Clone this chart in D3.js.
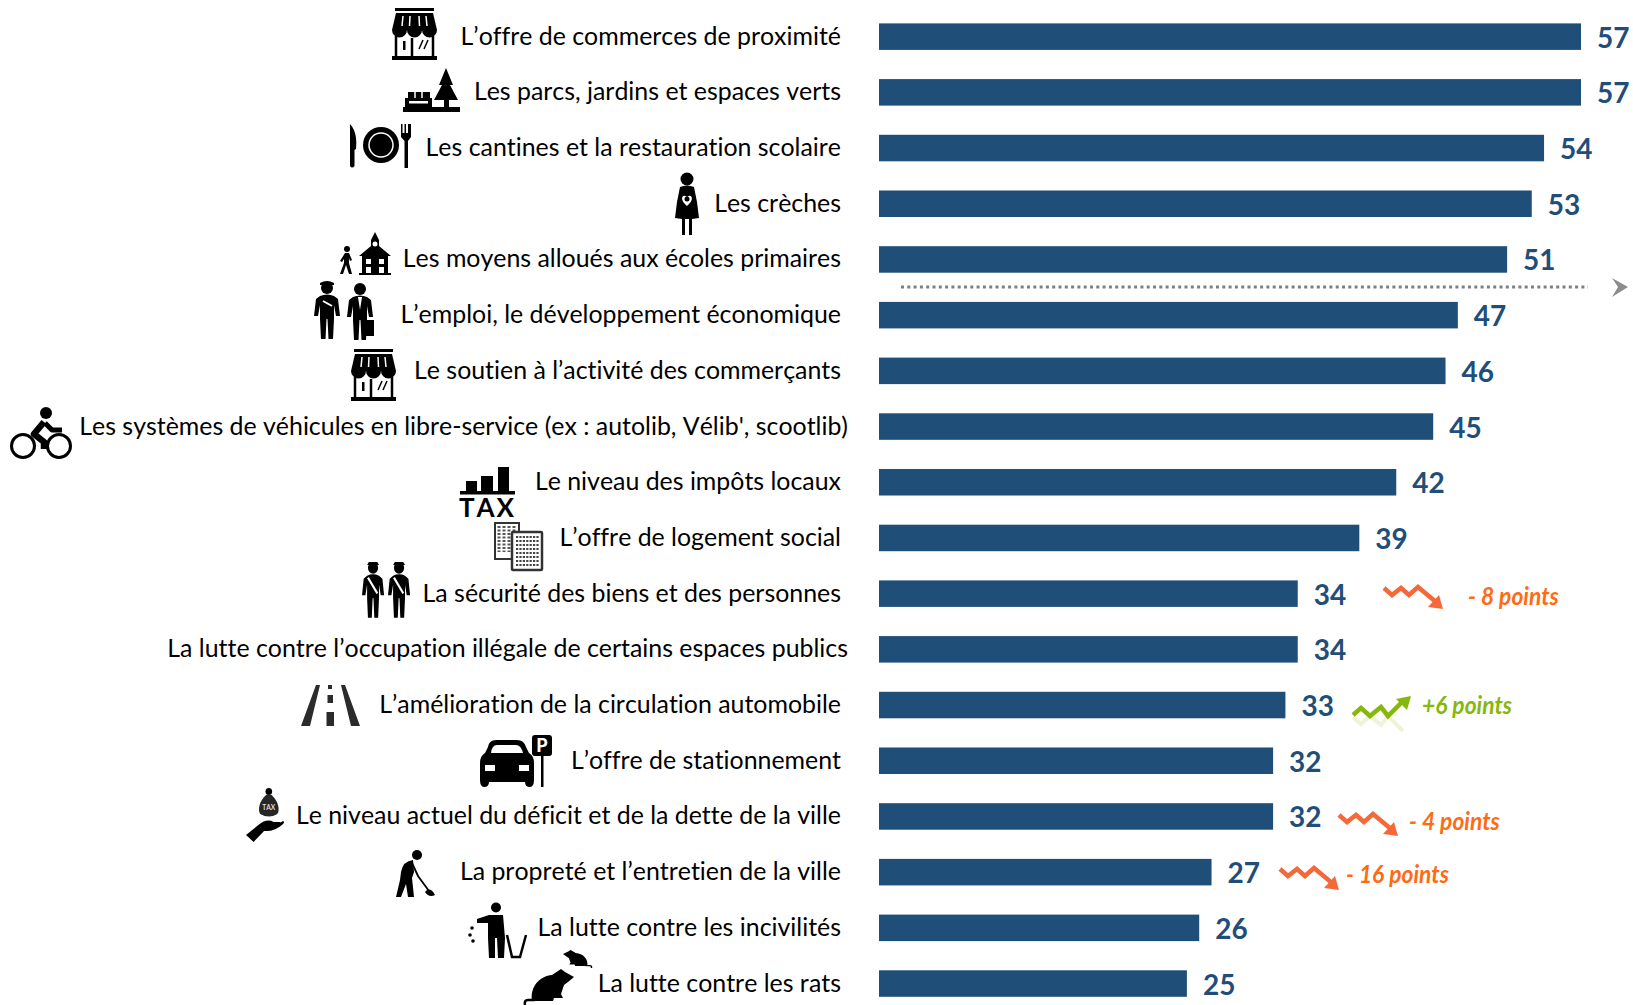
<!DOCTYPE html>
<html>
<head>
<meta charset="utf-8">
<script src="https://cdn.jsdelivr.net/npm/d3@7"></script>
<style>
  body { margin: 0; background: #fff; }
  text { font-family: Lato, "Open Sans", sans-serif; font-variant-ligatures: none; font-kerning: none; }
</style>
</head>
<body>
<div id="plot"></div>
<script>
// Chart values
const categories = [
    "L’offre de commerces de proximité",
    "Les parcs, jardins et espaces verts",
    "Les cantines et la restauration scolaire",
    "Les crèches",
    "Les moyens alloués aux écoles primaires",
    "L’emploi, le développement économique",
    "Le soutien à l’activité des commerçants",
    "Les systèmes de véhicules en libre-service (ex : autolib, Vélib', scootlib)",
    "Le niveau des impôts locaux",
    "L’offre de logement social",
    "La sécurité des biens et des personnes",
    "La lutte contre l’occupation illégale de certains espaces publics",
    "L’amélioration de la circulation automobile",
    "L’offre de stationnement",
    "Le niveau actuel du déficit et de la dette de la ville",
    "La propreté et l’entretien de la ville",
    "La lutte contre les incivilités",
    "La lutte contre les rats"
];
const values = [57, 57, 54, 53, 51, 47, 46, 45, 42, 39, 34, 34, 33, 32, 32, 27, 26, 25];
const changeRows = [10, 12, 14, 15];
const changeLabels = ["- 8 points", "+6 points", "- 4 points", "- 16 points"];

const width = 1633;
const height = 1005;
const barColor = "#1f4e79";
const orange = "#ff6a13";
const green = "#85b80a";

const x = d3.scaleLinear().domain([0, 57]).range([879, 1581]);
const y = d3.scaleBand().domain(categories).range([23.4, 996.8]).paddingInner(0.524);

const svg = d3.select("div#plot")
    .append("svg")
    .attr("width", width)
    .attr("height", height)
    .style("display", "block");

// Bars
svg.append("g")
    .selectAll("rect")
    .data(values)
    .enter()
    .append("rect")
    .attr("x", x(0))
    .attr("y", (d, i) => y(categories[i]))
    .attr("width", d => x(d) - x(0))
    .attr("height", y.bandwidth())
    .attr("fill", barColor);

// Value labels
svg.append("g")
    .selectAll("text")
    .data(values)
    .enter()
    .append("text")
    .attr("x", d => x(d) + 16)
    .attr("y", (d, i) => y(categories[i]) + y.bandwidth() / 2 + 11)
    .attr("fill", barColor)
    .style("font-size", "28px")
    .style("font-weight", 700)
    .text(d => d);

// Category labels. The two longest ones run a little past the others in the original
const overhang = { 7: 7, 11: 7 };
svg.append("g")
    .selectAll("text")
    .data(categories)
    .enter()
    .append("text")
    .attr("x", (d, i) => 841 + (overhang[i] || 0))
    .attr("y", d => y(d) + y.bandwidth() / 2 + 8)
    .attr("text-anchor", "end")
    .attr("fill", "#000")
    .style("font-size", "24.9px")
    .text(d => d);

// Dotted separator under the top five, with its small pointer
svg.append("line")
    .attr("x1", 901).attr("x2", 1588)
    .attr("y1", 287).attr("y2", 287)
    .attr("stroke", "#7f7f7f")
    .attr("stroke-width", 3)
    .attr("stroke-dasharray", "3 3.3");
svg.append("path")
    .attr("d", "M1612 278 L1628 287 L1612 297 L1618 287 Z")
    .attr("fill", "#8c8c8c");

// Change annotations
const changeLayout = [
    { arrowX: 1384, arrowY: 585, textX: 1468, textY: 605, up: false },
    { arrowX: 1353, arrowY: 696, textX: 1422, textY: 714, up: true },
    { arrowX: 1339, arrowY: 812, textX: 1409, textY: 830, up: false },
    { arrowX: 1280, arrowY: 866, textX: 1346, textY: 883, up: false }
];
const downLine = "M0 3 L8 10 L17 3 L25 10 L34 2 L52 17";
const downHead = "M59 24 L44 22 L55 10 Z";
const upLine = "M0 19 L8 12 L17 20 L28 11 L35 20 L50 5";
const upHead = "M58 0 L43 3 L54 14 Z";

changeLayout.forEach(function(c, i) {
    const color = c.up ? green : orange;
    const g = svg.append("g").attr("transform", "translate(" + c.arrowX + "," + c.arrowY + ")");
    if (c.up) {
        // faded reflection below the green arrow
        g.append("path").attr("d", upLine).attr("transform", "translate(0,40) scale(1,-1)")
            .attr("fill", "none").attr("stroke", color).attr("stroke-width", 4).attr("opacity", 0.15);
    }
    g.append("path").attr("d", c.up ? upLine : downLine)
        .attr("fill", "none").attr("stroke", c.up ? color : "#f4693a").attr("stroke-width", 4.5);
    g.append("path").attr("d", c.up ? upHead : downHead).attr("fill", c.up ? color : "#f4693a");

    svg.append("text")
        .attr("transform", "translate(" + c.textX + "," + c.textY + ") scale(0.95,1)")
        .attr("fill", color)
        .style("font-size", "24px")
        .style("font-weight", 700)
        .style("font-style", "italic")
        .text(changeLabels[i]);
});

// Pictograms, each drawn in its own little box
const personBody = "M6 15 Q13 12 20 15 L24 18 L26 35 L22 35 L20 24 L20 38 L19 58 L14.5 58 L13.5 38 L12.5 38 L11.5 58 L7 58 L6 38 L6 24 L4 35 L0 35 L2 18 Z";
const person = '<circle cx="13" cy="7" r="6"/><path d="' + personBody + '"/>';
const guard = person +
    '<path d="M6 4 H20 L18 1 H8 Z"/><path d="M7 17 L18 33" stroke="#fff" stroke-width="2.5" fill="none"/>';

const shop = '<rect x="3" y="0" width="39" height="3"/><path d="M4 5 H41 L45 22 H0 Z"/>' +
    '<path d="M11 8 L10 18 M18 8 L17.500 18 M27 8 L27.500 18 M34 8 L35 18" stroke="#fff" stroke-width="1.5"/>' +
    '<path d="M0 22 H15 A7.500 7.500 0 0 1 0 22 Z M15 22 H30 A7.500 7.500 0 0 1 15 22 Z M30 22 H45 A7.500 7.500 0 0 1 30 22 Z"/>' +
    '<path d="M4 28 V49 M41 28 V49 M20 30 V49" stroke="#000" stroke-width="2.5" fill="none"/>' +
    '<rect x="0" y="48" width="45" height="4"/><rect x="11" y="33" width="2.500" height="9"/>' +
    '<path d="M27 41 L31 32 M32 41 L36 32" stroke="#000" stroke-width="1.500"/>';

const icons = {
    shop: shop,
    park: '<path d="M43 0 L50 17 L47 17 L55 32 L46 32 V39 H41 V32 L31 32 L39 17 L36 17 Z"/>' +
        '<rect x="0" y="39" width="57" height="5"/><rect x="5" y="24" width="22" height="10"/>' +
        '<path d="M12 24 V30 M19 24 V30" stroke="#fff" stroke-width="1.500"/><rect x="2" y="30" width="27" height="9"/>' +
        '<rect x="6" y="33" width="19" height="2.500" fill="#fff"/>',
    cutlery: '<path d="M1 0 C7 6 8 16 7 25 L5.500 26 V42 Q3 45 1 42 Z"/>' +
        '<circle cx="32" cy="21" r="18"/><circle cx="32" cy="21" r="12" fill="none" stroke="#fff" stroke-width="1.500"/>' +
        '<path d="M52 0 H53.500 V9 H55.500 V0 H57 V9 H59 V0 H60.500 V0 H62 V13 L59 17 V44 H55.500 V17 L52 13 Z"/>',
    nurse: '<circle cx="12" cy="7" r="6.500"/><path d="M5 15 Q12 12 19 15 L22 30 L24 46 L17 47 V63 H14 V47 H10 V63 H7 V47 L0 46 L2 30 Z"/>' +
        '<path d="M12 34 C4 28 7 21 12 25 C17 21 20 28 12 34 Z" fill="#fff"/><circle cx="12" cy="27" r="2.500"/>',
    school: '<g transform="translate(21,0)"><path d="M16 0 L20 8 V14 L32 24 H29 V41 H3 V24 H0 L12 14 V8 Z"/><rect x="0" y="41" width="32" height="2"/>' +
        '<circle cx="16" cy="12" r="2.500" fill="#fff"/><path d="M7 27 H12 V32 H7 Z M20 27 H25 V32 H20 Z M7 35 H12 V41 H7 Z M20 35 H25 V41 H20 Z" fill="#fff"/></g>' +
        '<g transform="translate(0,14)"><circle cx="9" cy="3" r="3"/><path d="M7 7 H11 L14 14 L12 15 L11 12 V17 L14 28 H11 L8 19 L5 28 H2 L6 17 V13 L4 16 L2 15 Z"/></g>',
    jobs: '<g>' + person + '<path d="M6 4 H20 V2 Q13 -2 6 2 Z"/><path d="M9 20 L18 25" stroke="#fff" stroke-width="2"/></g>' +
        '<g transform="translate(33,1)">' + person + '<path d="M11 15 H15 L13 28 Z" fill="#fff"/><rect x="18" y="38" width="9" height="16"/></g>',
    bike: '<circle cx="13" cy="39" r="11.500" fill="none" stroke="#000" stroke-width="3"/><circle cx="49" cy="39" r="11.500" fill="none" stroke="#000" stroke-width="3"/>' +
        '<circle cx="36" cy="6" r="6"/><path d="M34 15 L24 27 L34 35 V42" fill="none" stroke="#000" stroke-width="6.500" stroke-linejoin="round"/>' +
        '<path d="M35 16 L42 23 H52" fill="none" stroke="#000" stroke-width="5" stroke-linejoin="round"/>',
    tax: '<rect x="6" y="14" width="11" height="10"/><rect x="21" y="9" width="12" height="15"/><rect x="38" y="0" width="11" height="24"/>' +
        '<rect x="0" y="24" width="55" height="3.500"/><text x="27.500" y="50" text-anchor="middle" font-size="26" font-weight="700" style="letter-spacing:2px">TAX</text>',
    towers: '<rect x="1" y="1" width="24" height="36" fill="#fff" stroke="#333" stroke-width="2"/>' +
        '<path d="M5 4 V30 M10 4 V30 M15 4 V30 M20 4 V15" stroke="#555" stroke-width="3" stroke-dasharray="2 1.500"/>' +
        '<rect x="18" y="10" width="30" height="38" rx="1" fill="#fff" stroke="#333" stroke-width="2.500"/>' +
        '<path d="M22 15 H45 M22 19 H45 M22 23 H45 M22 27 H45 M22 31 H45 M22 35 H45 M22 39 H45 M22 43 H45" stroke="#444" stroke-width="2.200" stroke-dasharray="2.200 1.200"/>',
    guards: '<g transform="scale(0.85,1)">' + guard + '</g><g transform="translate(26,0) scale(0.85,1)">' + guard + '</g>',
    road: '<path d="M15 0 H19 L9 41 H0 Z M44 0 H40 L50 41 H59 Z M27 0 H31 V4 H27 Z M26.500 10 H32 V18 H26.500 Z M25.500 27 H33 V41 H25.500 Z" fill="#2b2b2b"/>',
    parking: '<path d="M9 12 Q10 5 17 5 H38 Q45 5 47 12 L50 18 Q55 21 55 28 V45 Q55 52 51 52 Q46 52 46 47 H10 Q10 52 5 52 Q1 52 1 45 V28 Q1 21 6 18 Z" transform="translate(0,0)"/>' +
        '<path d="M12 18 Q13 10 18 10 H37 Q42 10 44 18 Z" fill="#fff"/><rect x="6" y="30" width="10" height="6" fill="#fff"/><rect x="40" y="30" width="10" height="6" fill="#fff"/>' +
        '<rect x="53" y="0" width="20" height="21" rx="3"/><rect x="62" y="21" width="2.500" height="31"/>' +
        '<text x="63" y="17" text-anchor="middle" font-size="18" font-weight="900" fill="#fff">P</text>',
    debt: '<circle cx="24" cy="3.500" r="3.500"/><path d="M21 7 H27 C34 13 36 22 33 26 Q24 31 15 26 C12 22 14 13 21 7 Z" fill="#262626"/>' +
        '<text x="24" y="22" text-anchor="middle" font-size="7" font-weight="700" fill="#ddd">TAX</text>' +
        '<path d="M13 37 Q22 30 29 34 H36 Q37 37 32 37 L39 33 Q41 34 39 36 Q30 44 19 43 L8 54 L0 47 Z"/>',
    sweeper: '<circle cx="21" cy="5" r="5"/><path d="M17 10 Q7 11 5 22 L4 30 L0 47 H5 L10 34 L12 47 H18 L16 28 L18 22 Z"/>' +
        '<path d="M16 13 L22 26 L33 41" fill="none" stroke="#000" stroke-width="1.800"/><path d="M29 42 Q34 36 39 45 Q33 48 29 42 Z"/>',
    litter: '<g transform="translate(8,0)"><circle cx="19" cy="5.500" r="5"/><path d="M12 13 H26 L28 36 L27 56 H21 L20 36 H18 L18 56 H12 L11 36 V21 H0 V17 Z"/></g>' +
        '<circle cx="3" cy="26" r="1.800"/><circle cx="1" cy="33" r="1.800"/><circle cx="4" cy="39" r="1.800"/>' +
        '<path d="M38 33 L43 55 H51 L57 33" fill="none" stroke="#000" stroke-width="2.500"/>',
    rat: '<path d="M8 32 C6 17 16 7 28 6 L37 0 L41 3 L50 8 L44 13 L40 16 L37 25 L39 29 L30 29 L29 32 Z"/>' +
        '<path d="M11 31 H4 Q0 31 1 36" fill="none" stroke="#000" stroke-width="2.500"/>'
};

// Where each pictogram sits, and how much it is stretched
const iconPlacement = [
    { name: "shop", x: 392, y: 8, sx: 1, sy: 1 },
    { name: "park", x: 403, y: 68, sx: 1, sy: 1 },
    { name: "cutlery", x: 349, y: 124, sx: 1, sy: 1 },
    { name: "nurse", x: 675, y: 172, sx: 1, sy: 1 },
    { name: "school", x: 338, y: 232, sx: 1, sy: 1 },
    { name: "jobs", x: 314, y: 281, sx: 1, sy: 1 },
    { name: "shop", x: 351, y: 349, sx: 1, sy: 1 },
    { name: "bike", x: 10, y: 407, sx: 1, sy: 1 },
    { name: "tax", x: 460, y: 467, sx: 1, sy: 1 },
    { name: "towers", x: 494, y: 522, sx: 1, sy: 1 },
    { name: "guards", x: 362, y: 561, sx: 1, sy: 0.98 },
    { name: "road", x: 301, y: 685, sx: 1, sy: 1 },
    { name: "parking", x: 479, y: 735, sx: 1, sy: 1 },
    { name: "debt", x: 246, y: 788, sx: 0.95, sy: 1 },
    { name: "sweeper", x: 396, y: 850, sx: 1, sy: 1 },
    { name: "litter", x: 469, y: 902, sx: 1, sy: 1 },
    { name: "rat", x: 524, y: 969, sx: 1, sy: 1 },
    { name: "rat", x: 592, y: 950, sx: -0.58, sy: 0.5 }
];

svg.append("g")
    .selectAll("g")
    .data(iconPlacement)
    .enter()
    .append("g")
    .attr("transform", d => "translate(" + d.x + "," + d.y + ") scale(" + d.sx + "," + d.sy + ")")
    .html(d => icons[d.name]);
</script>
</body>
</html>
